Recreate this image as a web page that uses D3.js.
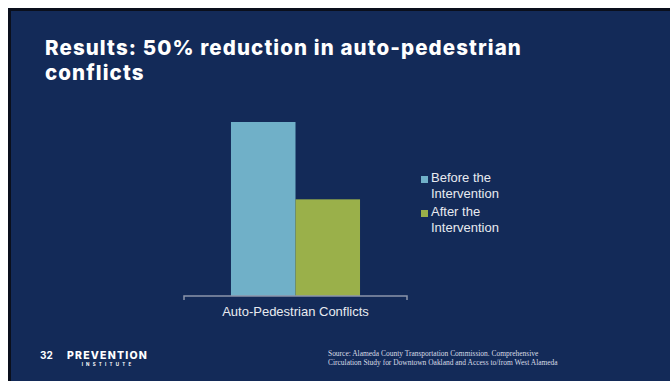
<!DOCTYPE html>
<html><head><meta charset="utf-8">
<script src="https://cdn.jsdelivr.net/npm/d3@7"></script>
<style>html,body{margin:0;padding:0;background:#fff;}svg{display:block;}</style>
</head><body>
<script>
const categories = ["Auto-Pedestrian Conflicts"];
const seriesNames = ["Before the Intervention", "After the Intervention"];
const legendLines = [["Before the", "Intervention"], ["After the", "Intervention"]];
const beforeValues = [18];
const afterValues = [10];
const yDomain = [0, 20];
const titleLines = ["Results: 50% reduction in auto-pedestrian", "conflicts"];
const sourceLines = ["Source: Alameda County Transportation Commission. Comprehensive",
  "Circulation Study for Downtown Oakland and Access to/from West Alameda"];
const pageNumber = "32";

const W = 670, H = 381;
const navy = "#132a58";
const colors = ["#70b0c8", "#9ab04a"];
const textCol = "#e8eaf0";

const svg = d3.select("body").append("svg").attr("width", W).attr("height", H);
svg.append("rect").attr("width", W).attr("height", H).attr("fill", "#fff");
svg.append("rect").attr("x", 8).attr("y", 8).attr("width", W - 8).attr("height", H - 8).attr("fill", "#0a0f1c");
svg.append("rect").attr("x", 11).attr("y", 11).attr("width", W - 11).attr("height", H - 11).attr("fill", navy);

// title
const tx = 45, tfs = 20.5;
const title = svg.append("g").attr("font-family", "Inter, 'DejaVu Sans', sans-serif")
  .attr("font-weight", 800).attr("fill", "#fff").attr("font-size", tfs);
const t1 = title.append("text").attr("x", tx).attr("y", 55).text(titleLines[0]);
const tw = t1.node().getComputedTextLength();
const ls = (477 - tw) / titleLines[0].length;
title.attr("letter-spacing", ls);
title.append("text").attr("x", tx).attr("y", 80).text(titleLines[1]);

// chart
const x0 = d3.scaleBand().domain(categories).range([184, 407]).paddingOuter(0.364).paddingInner(0);
const x1 = d3.scaleBand().domain(seriesNames).range([0, x0.bandwidth()]).padding(0);
const y = d3.scaleLinear().domain(yDomain).range([296, 296 - 174 / 18 * 20]);

const data = categories.map((c, i) => ({cat: c, vals: [beforeValues[i], afterValues[i]]}));
const g = svg.append("g");
g.selectAll("g.cat").data(data).join("g").attr("class", "cat")
  .attr("transform", d => `translate(${x0(d.cat)},0)`)
  .selectAll("rect").data(d => d.vals.map((v, j) => ({s: seriesNames[j], v, j})))
  .join("rect")
  .attr("x", d => x1(d.s)).attr("width", x1.bandwidth())
  .attr("y", d => y(d.v)).attr("height", d => y(0) - y(d.v))
  .attr("fill", d => colors[d.j]);

const axis = svg.append("g").attr("transform", `translate(0,${y(0)})`)
  .call(d3.axisBottom(x0).tickSize(0).tickPadding(14));
axis.select(".domain").remove();
axis.append("path").attr("d", "M184,4V0H407V4").attr("fill", "none")
  .attr("stroke", "#8c95aa").attr("stroke-width", 1.5);
axis.selectAll(".tick text").attr("font-family", "'Liberation Sans', Arial, sans-serif")
  .attr("font-size", 13).attr("fill", textCol).attr("dy", "0");
axis.selectAll(".tick text").attr("y", 20);

// legend
const leg = svg.append("g").attr("font-family", "'Liberation Sans', Arial, sans-serif")
  .attr("font-size", 13).attr("fill", textCol);
const legY = [182, 216];
seriesNames.forEach((s, i) => {
  leg.append("rect").attr("x", 421).attr("y", legY[i] - 6).attr("width", 7).attr("height", 7).attr("fill", colors[i]);
  legendLines[i].forEach((l, k) => {
    leg.append("text").attr("x", 431).attr("y", legY[i] + k * 16).text(l);
  });
});

// footer
svg.append("text").attr("x", 40).attr("y", 359).attr("font-family", "Inter, sans-serif")
  .attr("font-weight", 700).attr("font-size", 10).attr("fill", "#fff").text(pageNumber);
svg.append("text").attr("x", 67).attr("y", 359).attr("font-family", "Inter, sans-serif")
  .attr("font-weight", 800).attr("font-size", 10.5).attr("letter-spacing", 1.2).attr("fill", "#fff").text("PREVENTION");
svg.append("text").attr("x", 108).attr("y", 366).attr("text-anchor", "middle").attr("font-family", "Inter, sans-serif")
  .attr("font-weight", 700).attr("font-size", 4.5).attr("letter-spacing", 3.2).attr("fill", "#fff").text("INSTITUTE");

const src = svg.append("g").attr("font-family", "'Liberation Serif', serif").attr("fill", "#d8dbe6");
const s2 = src.append("text").attr("x", 328).attr("y", 365).attr("font-size", 7).text(sourceLines[1]);
const sfs = 7 * 230 / s2.node().getComputedTextLength();
s2.attr("font-size", sfs);
src.append("text").attr("x", 328).attr("y", 356).attr("font-size", sfs).text(sourceLines[0]);
</script>
</body></html>
